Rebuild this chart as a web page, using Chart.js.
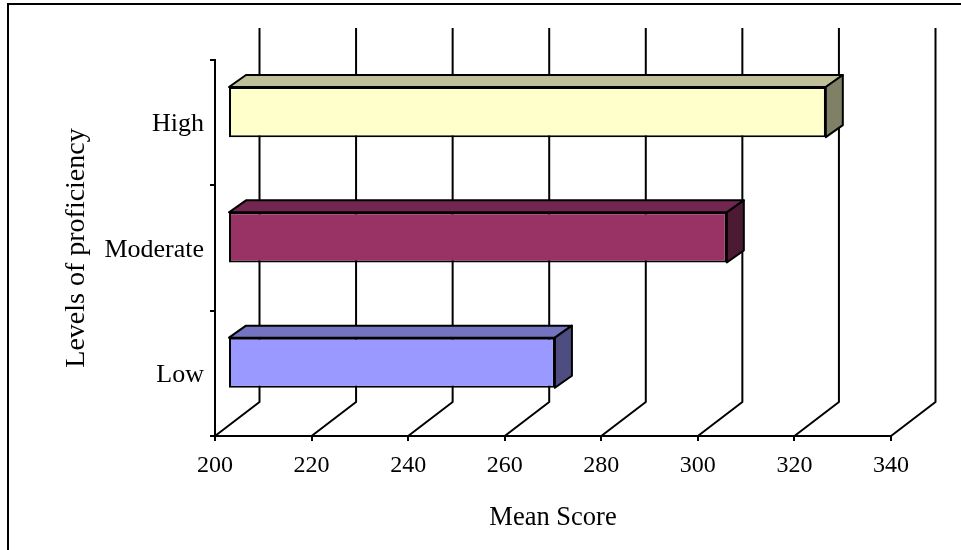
<!DOCTYPE html>
<html>
<head>
<meta charset="utf-8">
<style>
  html, body { margin: 0; padding: 0; background: #fff; }
  #wrap { position: relative; width: 961px; height: 550px; overflow: hidden; }
  #frame { position: absolute; left: 7px; top: 3px; width: 960px; height: 560px; border-left: 2px solid #000; border-top: 2px solid #000; }
  canvas { position: absolute; left: 0; top: 0; }
</style>
</head>
<body>
<div id="wrap">
  <canvas id="scoreChart" width="961" height="550"></canvas>
  <div id="frame"></div>
</div>
<script src="https://cdn.jsdelivr.net/npm/chart.js@4/dist/chart.umd.min.js"></script>
<script>
const categories = ['High', 'Moderate', 'Low'];
const meanScores = [323.6, 303.1, 267.5];
const frontColors = ['#FFFFCC', '#993366', '#9999FF'];
const topColors = ['#BFBF99', '#732650', '#7373BF'];
const sideColors = ['#808066', '#4D1A33', '#4D4D80'];
const scoreTicks = [200, 220, 240, 260, 280, 300, 320, 340];
const scoreMin = 200;

// depth of the fake 3D box, the bars sit about a third of the way in
const wallDx = 44.5, wallDy = -34, wallTop = 28;
const barDx = 14, barDy = -10.6;
const boxDx = 17, boxDy = -12;

const fontFamily = '"Liberation Serif", "Times New Roman", serif';

function face(ctx, pts, fill) {
    ctx.beginPath();
    pts.forEach((p, i) => i ? ctx.lineTo(p[0], p[1]) : ctx.moveTo(p[0], p[1]));
    ctx.closePath();
    ctx.fillStyle = fill;
    ctx.fill();
    ctx.stroke();
}

const depth3d = {
    id: 'depth3d',
    beforeDatasetsDraw(chart) {
        const { ctx, scales: { x }, chartArea } = chart;
        ctx.save();
        ctx.strokeStyle = '#000';
        ctx.lineWidth = 2;
        ctx.lineJoin = 'round';
        scoreTicks.forEach(v => {
            const px = x.getPixelForValue(v);
            ctx.beginPath();
            ctx.moveTo(px, chartArea.bottom);
            ctx.lineTo(px + wallDx, chartArea.bottom + wallDy);
            ctx.lineTo(px + wallDx, wallTop);
            ctx.stroke();
        });
        ctx.restore();
    },
    beforeDatasetDraw(chart) {
        const ctx = chart.ctx;
        const bars = chart.getDatasetMeta(0).data;
        ctx.save();
        ctx.translate(barDx, barDy);
        ctx.save();
        ctx.strokeStyle = '#000';
        ctx.lineWidth = 2;
        ctx.lineJoin = 'round';
        bars.forEach((bar, i) => {
            const p = bar.getProps(['x', 'y', 'base', 'height'], true);
            const t = p.y - p.height / 2, b = p.y + p.height / 2;
            face(ctx, [[p.base, t], [p.base + boxDx, t + boxDy], [p.x + boxDx, t + boxDy], [p.x, t]], topColors[i]);
            face(ctx, [[p.x, t], [p.x + boxDx, t + boxDy], [p.x + boxDx, b + boxDy], [p.x, b]], sideColors[i]);
        });
        ctx.restore();
    },
    afterDatasetDraw(chart) {
        chart.ctx.restore();
    }
};

new Chart(document.getElementById('scoreChart'), {
    type: 'bar',
    data: {
        labels: categories,
        datasets: [{
            data: meanScores.map(v => [scoreMin, v]),
            backgroundColor: frontColors,
            borderColor: '#000',
            borderWidth: 2,
            borderSkipped: false,
            barPercentage: 0.4,
            categoryPercentage: 1,
            clip: false
        }]
    },
    plugins: [depth3d],
    options: {
        indexAxis: 'y',
        responsive: false,
        animation: false,
        layout: { padding: { top: 60, right: 70, bottom: 0, left: 0 } },
        plugins: {
            legend: { display: false },
            tooltip: { enabled: false }
        },
        scales: {
            x: {
                min: scoreMin,
                max: 340,
                afterFit(scale) { scale.height = 114; },
                afterBuildTicks(scale) { scale.ticks = scoreTicks.map(value => ({ value })); },
                grid: { drawOnChartArea: false, color: '#000', lineWidth: 2, tickLength: 5 },
                border: { color: '#000', width: 2 },
                ticks: { color: '#000', maxRotation: 0, padding: 10, font: { family: fontFamily, size: 24 } },
                title: {
                    display: true,
                    text: 'Mean Score',
                    color: '#000',
                    padding: { top: 0, bottom: 16 },
                    font: { family: fontFamily, size: 26.5 }
                }
            },
            y: {
                afterFit(scale) { scale.width = 215; },
                grid: { drawOnChartArea: false, color: '#000', lineWidth: 2, tickLength: 5 },
                border: { color: '#000', width: 2 },
                ticks: { color: '#000', padding: 6, labelOffset: 2, font: { family: fontFamily, size: 26 } },
                title: {
                    display: true,
                    text: 'Levels of proficiency',
                    color: '#000',
                    padding: { top: 60, bottom: 0 },
                    font: { family: fontFamily, size: 28 }
                }
            }
        }
    }
});
</script>
</body>
</html>
